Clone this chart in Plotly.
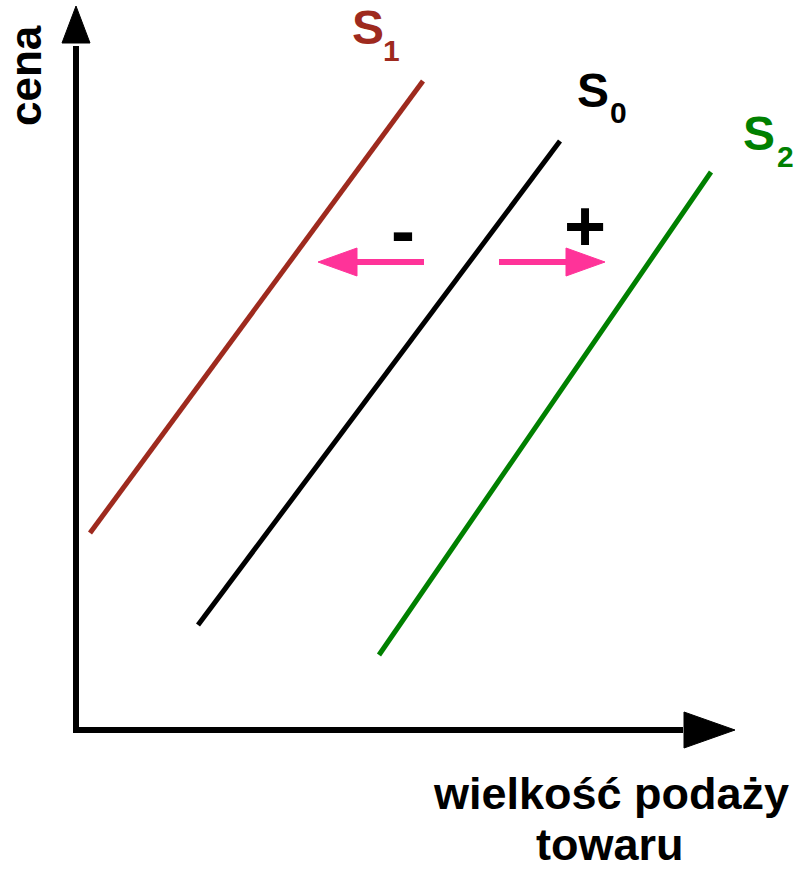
import plotly.graph_objects as go

# Coordinate system: quantity (x) and price (y), origin at the axes corner
# Supply curves (start and end points)
s1_q = [14, 347]
s1_p = [197, 649]
s0_q = [122, 484]
s0_p = [105, 589]
s2_q = [303, 635]
s2_p = [75, 558]

# Shift arrows (tail, tip) at one price level
shift_price = 468
left_shift_q = [348, 242]
right_shift_q = [423, 529]

# Axis extents
axis_q_max = 659
axis_p_max = 724

BROWN = "#9E2A1E"
GREEN = "#008000"
PINK = "#FF3399"
FONT = "Liberation Sans, Arial, sans-serif"

fig = go.Figure()

def seg(q, p, color, width):
    fig.add_trace(go.Scatter(x=q, y=p, mode="lines",
                             line=dict(color=color, width=width),
                             hoverinfo="skip", showlegend=False))

def tri(q, p, color):
    fig.add_trace(go.Scatter(x=q + [q[0]], y=p + [p[0]], mode="lines", fill="toself",
                             fillcolor=color, line=dict(color=color, width=1),
                             hoverinfo="skip", showlegend=False))

# Axes
seg([0, 0], [-3, axis_p_max - 40], "black", 6)
seg([-3, axis_q_max - 52], [0, 0], "black", 6)
tri([-14, 14, 0], [axis_p_max - 37, axis_p_max - 37, axis_p_max], "black")
tri([axis_q_max - 51, axis_q_max - 51, axis_q_max], [18, -18, 0], "black")

# Supply curves
seg(s1_q, s1_p, BROWN, 5)
seg(s0_q, s0_p, "black", 5)
seg(s2_q, s2_p, GREEN, 5)

# Pink shift arrows
head = 39
seg([left_shift_q[0], left_shift_q[1] + head - 2], [shift_price] * 2, PINK, 6)
tri([left_shift_q[1] + head, left_shift_q[1] + head, left_shift_q[1]],
    [shift_price + 14, shift_price - 14, shift_price], PINK)
seg([right_shift_q[0], right_shift_q[1] - head + 2], [shift_price] * 2, PINK, 6)
tri([right_shift_q[1] - head, right_shift_q[1] - head, right_shift_q[1]],
    [shift_price + 14, shift_price - 14, shift_price], PINK)

def label(x, y, text, size, color="black", angle=0, yanchor="middle", yref="y"):
    fig.add_annotation(x=x, y=y, yref=yref, text=text, showarrow=False, textangle=angle,
                       font=dict(family=FONT, size=size, color=color, weight="bold"),
                       xanchor="center", yanchor=yanchor, borderpad=0, borderwidth=0)

# Curve labels (S with subscript)
label(292, 703, "S", 48, BROWN)
label(315, 680, "1", 30, BROWN)
label(517, 640, "S", 48)
label(542, 618, "0", 30)
label(683, 597, "S", 48, GREEN)
label(709, 574, "2", 30, GREEN)

# Shift signs
label(327, 500, "-", 72)
label(509, 504, "+", 72)

# Axis titles
label(-51, 654, "cena", 44, angle=-90)
label(535, -89, "wielkość podaży", 45, yanchor="bottom")
label(534, 0, "towaru", 45, yanchor="bottom", yref="paper")

fig.update_layout(
    width=794, height=870,
    margin=dict(l=0, r=0, t=0, b=0),
    paper_bgcolor="white", plot_bgcolor="white",
    xaxis=dict(range=[-76, 718], visible=False, fixedrange=True),
    yaxis=dict(range=[-140, 730], visible=False, fixedrange=True),
    showlegend=False,
)

fig.write_html("out.html", config={"displayModeBar": False},
               post_script="document.body.style.margin='0';document.body.style.overflow='hidden';")
